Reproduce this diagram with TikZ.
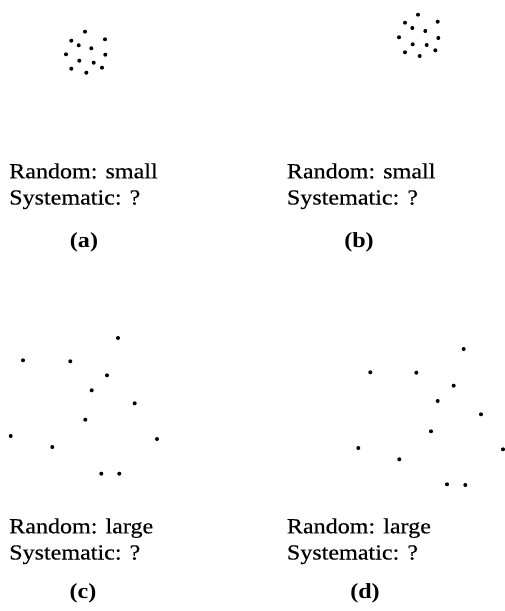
\documentclass[tikz,border=0pt]{standalone}
\usepackage{fontspec}
\setmainfont{Liberation Serif}[FakeStretch=1.12,UprightFeatures={FakeBold=0.4}]
\begin{document}
\begin{tikzpicture}[x=1pt,y=-1pt,
  pt/.style={fill=black,draw=none},
  txt/.style={anchor=base west,inner sep=0pt,font=\fontsize{21.5}{24}\selectfont},
  lab/.style={anchor=base,inner sep=0pt,font=\fontsize{21.5}{24}\selectfont\bfseries}]
\useasboundingbox (0,0) rectangle (505,611);
% (a)
\foreach \x/\y in {85/31.7,71.3/40.7,105/39.3,78.7/45.3,91.3/48.3,66/54.3,105.3/54.7,79.3/60.7,93.7/62.7,71.3/68.7,102/67.7,86.3/72.7}
  \fill[pt] (\x,\y) circle[radius=2];
% (b)
\foreach \x/\y in {418/14.7,405/22.7,437.7/21.7,412.3/28,425.3/31,399/37.3,438.3/38,412.7/44.3,426.7/45,405/52.3,435.3/50.3,419.7/56}
  \fill[pt] (\x,\y) circle[radius=2];
% (c)
\foreach \x/\y in {118/338,23/360.3,70.3/361.3,107/375.3,91.7/390.3,134.7/403.3,85.3/419.7,10.7/436,52.3/447,157/439,101.3/473.7,119.3/473.7}
  \fill[pt] (\x,\y) circle[radius=2];
% (d)
\foreach \x/\y in {463.7/349,370.3/372.3,416.3/372.7,453.7/385.7,437.7/401,481/414.3,431/431.3,358.3/448,399.3/459.3,503/449.3,447/484.3,465.3/485}
  \fill[pt] (\x,\y) circle[radius=2];
% texts
\node[txt] (a1) at (9,178.3) {Random: small};
\node[txt] (a2) at (9,204.5) {Systematic: ?};
\node[lab] (al) at (84,247) {(a)};
\node[txt] (b1) at (286.7,178.3) {Random: small};
\node[txt] (b2) at (286.7,204.5) {Systematic: ?};
\node[lab] (bl) at (359,247) {(b)};
\node[txt] (c1) at (9,533.3) {Random: large};
\node[txt] (c2) at (9,559.5) {Systematic: ?};
\node[lab] (cl) at (83,598.6) {(c)};
\node[txt] (d1) at (286.7,533.3) {Random: large};
\node[txt] (d2) at (286.7,559.5) {Systematic: ?};
\node[lab] (dl) at (365,598.6) {(d)};
\end{tikzpicture}
\end{document}
